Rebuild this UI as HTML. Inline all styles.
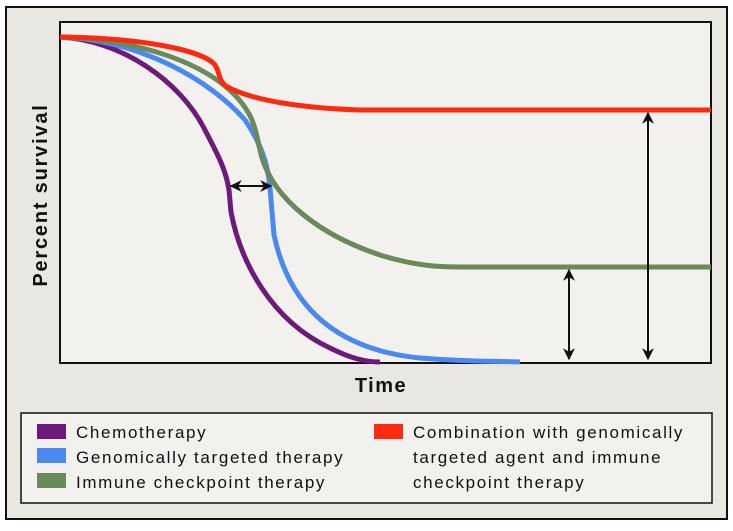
<!DOCTYPE html>
<html><head><style>
body{margin:0;width:733px;height:526px;background:#fff;overflow:hidden}
</style></head><body>
<svg width="733" height="526" viewBox="0 0 733 526" xmlns="http://www.w3.org/2000/svg" font-family="Liberation Sans, sans-serif">
<defs>
<marker id="a" viewBox="0 0 10 10" refX="9" refY="5" markerWidth="6" markerHeight="6" orient="auto-start-reverse"><path d="M0,0L10,5L0,10L3,5z" fill="#111"/></marker>
</defs>
<rect x="6" y="7" width="721" height="512" fill="#e9e7e2" stroke="#111" stroke-width="2"/>
<rect x="60" y="22" width="651" height="341" fill="#f3f1ee" stroke="#111" stroke-width="2"/>
<g fill="none" stroke-width="5">
<path d="M60,37 C120,40 180,80 205,130 C218,155 226,170 229,190 L231,212 C240,260 270,320 330,348 C350,358 365,362 380,362" stroke="#6e1a7a"/>
<path d="M60,37 C140,40 210,80 245,120 C262,145 268,165 270,188 L274,235 C290,310 340,350 420,358 C470,362 500,361 520,362" stroke="#4a8af0"/>
<path d="M60,37 C150,40 230,70 252,120 C258,135 258,145 262,158 C275,200 320,235 380,255 C415,266 440,267 460,267 L711,267" stroke="#6a8a5a"/>
<path d="M60,37 C150,38 205,52 215,65 C220,72 218,80 226,86 C250,100 300,108 360,110 L711,110" stroke="#ff2a10"/>
</g>
<g stroke="#111" stroke-width="2" marker-start="url(#a)" marker-end="url(#a)">
<line x1="231" y1="186" x2="271" y2="186"/>
<line x1="569" y1="270" x2="569" y2="359"/>
<line x1="648" y1="113" x2="648" y2="359"/>
</g>
<text x="381" y="392" text-anchor="middle" font-size="20" font-weight="bold" letter-spacing="1.5" fill="#111">Time</text>
<text transform="translate(47,195) rotate(-90)" text-anchor="middle" font-size="20" font-weight="bold" letter-spacing="1.8" fill="#111">Percent survival</text>
<rect x="21" y="413" width="691" height="90" fill="#f3f1ee" stroke="#111" stroke-width="1.5"/>
<g font-size="17" letter-spacing="1.65" fill="#111">
<rect x="37" y="424" width="29" height="15" fill="#6e1a7a"/><text x="76" y="438">Chemotherapy</text>
<rect x="37" y="448" width="29" height="15" fill="#4a8af0"/><text x="76" y="463">Genomically targeted therapy</text>
<rect x="37" y="473" width="29" height="15" fill="#6a8a5a"/><text x="76" y="488">Immune checkpoint therapy</text>
<rect x="374" y="424" width="29" height="15" fill="#ff2a10"/><text x="413" y="438">Combination with genomically</text>
<text x="413" y="463">targeted agent and immune</text>
<text x="413" y="488">checkpoint therapy</text>
</g>
</svg>
</body></html>
